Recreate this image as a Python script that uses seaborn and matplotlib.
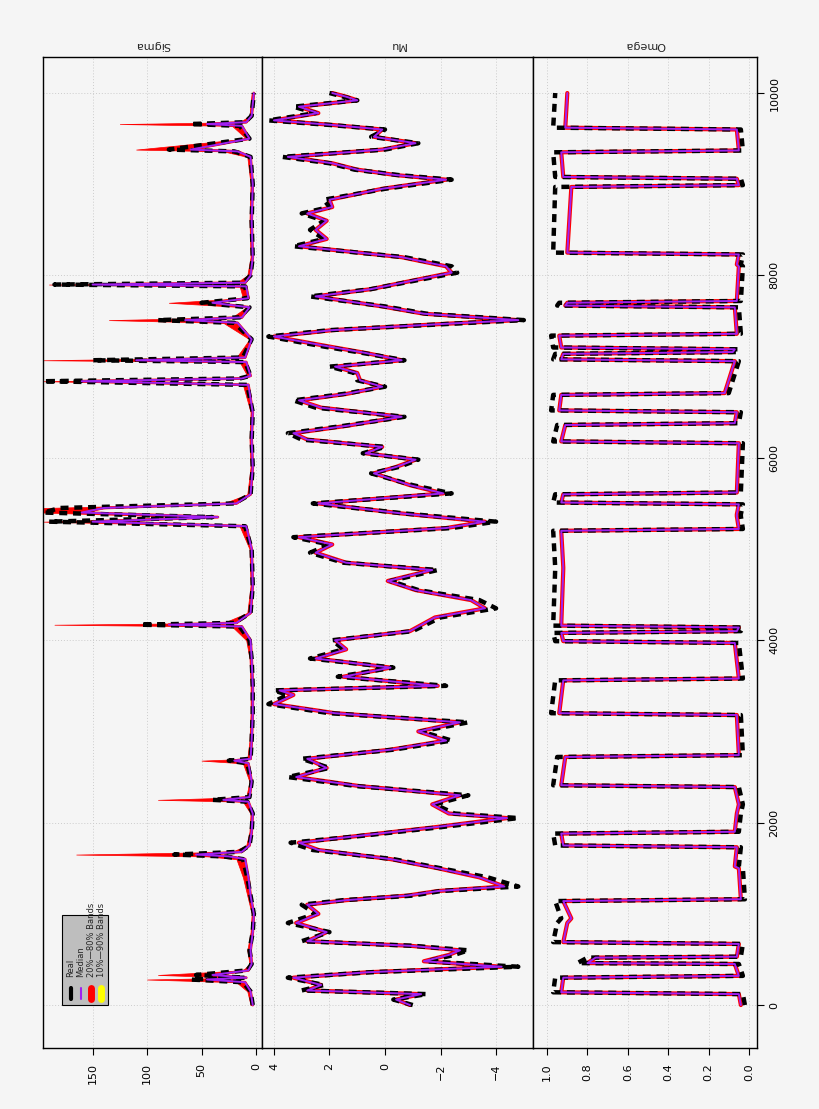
import matplotlib
matplotlib.use("Agg")
import matplotlib.pyplot as plt
import numpy as np
import pandas as pd
import seaborn as sns
from matplotlib.patches import Rectangle
from matplotlib.lines import Line2D

# ---- data (coarse) ----
sg_t = [0, 150, 250, 280, 300, 330, 380, 450, 600, 800, 1000, 1200, 1400, 1600, 1630, 1650, 1680, 1750, 1900, 2100,
        2230, 2250, 2280, 2450, 2650, 2680, 2700, 2900, 3200, 3500, 3800, 4000, 4150, 4170, 4190, 4300, 4600, 5000, 5250, 5300,
        5350, 5400, 5450, 5500, 5600, 5900, 6200, 6500, 6800, 6840, 6870, 6900, 7050, 7070, 7100, 7300, 7480, 7510, 7540, 7650,
        7700, 7750, 7880, 7900, 7920, 8000, 8200, 8600, 9000, 9300, 9360, 9380, 9500, 9640, 9660, 9680, 9750, 10000]
sg_real = [3, 5, 12, 60, 10, 55, 8, 4, 6, 3, 2, 5, 8, 12, 30, 75, 15, 6, 4, 3,
           8, 40, 6, 4, 8, 25, 5, 4, 3, 3, 4, 6, 15, 106, 20, 5, 3, 4, 10, 190,
           40, 195, 180, 20, 5, 3, 4, 3, 8, 195, 15, 5, 10, 150, 12, 4, 20, 90, 15, 6,
           50, 8, 10, 185, 12, 5, 3, 4, 3, 5, 20, 80, 6, 15, 60, 10, 4, 2]
sg_med = [3, 5, 10, 45, 9, 40, 7, 4, 5, 3, 2, 5, 7, 10, 25, 55, 13, 6, 4, 3,
          7, 30, 6, 4, 7, 20, 5, 4, 3, 3, 4, 5, 13, 80, 18, 5, 3, 4, 9, 150,
          35, 160, 140, 18, 5, 3, 4, 3, 7, 160, 13, 5, 9, 110, 10, 4, 17, 65, 13, 6,
          40, 7, 9, 150, 10, 5, 3, 4, 3, 5, 17, 60, 6, 13, 45, 9, 4, 2]
sg_hi = [5, 8, 18, 100, 15, 90, 12, 6, 8, 5, 4, 8, 12, 18, 45, 165, 22, 9, 6, 5,
         12, 90, 9, 6, 12, 50, 8, 6, 5, 5, 6, 9, 22, 185, 30, 8, 5, 6, 15, 195,
         60, 195, 195, 30, 8, 5, 6, 5, 12, 195, 22, 8, 15, 195, 18, 6, 30, 135, 22, 9,
         80, 12, 15, 190, 18, 8, 5, 6, 5, 8, 30, 110, 9, 22, 125, 15, 6, 4]

mu_t = [0, 60, 120, 160, 220, 300, 360, 420, 480, 550, 600, 650, 700, 800, 900, 1000, 1100, 1150, 1200, 1250,
        1300, 1400, 1500, 1600, 1700, 1780, 1850, 1950, 2050, 2100, 2200, 2300, 2400, 2500, 2600, 2700, 2800, 2900, 3000, 3100,
        3200, 3300, 3400, 3450, 3500, 3600, 3700, 3800, 3900, 4000, 4100, 4250, 4350, 4440, 4550, 4650, 4770, 4850, 4960, 5050,
        5130, 5230, 5300, 5390, 5500, 5610, 5700, 5830, 5900, 5980, 6050, 6120, 6200, 6270, 6350, 6450, 6550, 6630, 6700, 6780,
        6850, 6930, 7000, 7070, 7150, 7220, 7330, 7400, 7470, 7510, 7580, 7660, 7770, 7850, 7950, 8030, 8100, 8200, 8320, 8400,
        8500, 8600, 8680, 8750, 8830, 8950, 9050, 9100, 9160, 9230, 9300, 9380, 9450, 9520, 9600, 9650, 9700, 9780, 9850, 9920,
        9960, 10000]
mu_real = [-1.0, -0.3, -1.5, 3.0, 2.2, 3.5, 0.5, -4.8, -1.5, -2.5, -3.0, -1.0, 3.0, 2.0, 3.5, 2.5, 3.0, 1.5, -1.0, -2.0,
           -4.8, -3.7, -2.0, -0.3, 2.6, 3.4, 1.0, -2.0, -4.8, -2.5, -1.8, -3.0, 1.0, 3.5, 2.0, 3.0, -0.3, -2.4, -1.3, -3.0,
           2.0, 4.2, 3.5, 4.0, -2.2, 1.7, -0.3, 2.7, 1.5, 1.9, -1.0, -2.0, -4.0, -3.4, -1.2, -0.2, -1.9, 1.5, 2.7, 2.0,
           3.3, -2.4, -4.0, -0.7, 2.6, -2.4, -1.0, 0.5, -0.5, -1.2, 0.8, 0.0, 3.0, 3.5, 1.5, -0.7, 2.5, 3.3, 1.5, 0.0,
           1.0, 1.1, 2.0, -0.7, 0.8, 2.2, 4.2, 2.0, -2.4, -5.0, -1.5, 0.0, 2.7, 0.5, -1.2, -2.6, -2.4, -0.7, 3.3, 2.2,
           2.7, 2.2, 3.0, 2.0, 2.2, 0.0, -2.4, -0.5, 1.1, 2.0, 3.7, 0.0, -1.2, 0.5, 0.0, 2.0, 4.2, 2.5, 3.3, 1.0,
           1.5, 2.0]
mu_med = [-0.9, -0.4, -1.3, 2.8, 2.3, 3.3, 0.6, -4.2, -1.4, -2.3, -2.7, -0.9, 2.8, 2.1, 3.2, 2.4, 2.8, 1.4, -0.8, -1.9,
          -4.3, -3.4, -1.9, -0.2, 2.4, 3.1, 1.1, -1.8, -4.4, -2.3, -1.7, -2.7, 0.9, 3.2, 2.1, 2.8, -0.2, -2.2, -1.2, -2.7,
          1.8, 4.0, 3.3, 3.8, -1.9, 1.5, -0.2, 2.5, 1.4, 1.8, -0.9, -1.8, -3.6, -3.1, -1.1, -0.1, -1.7, 1.4, 2.5, 1.9,
          3.1, -2.2, -3.6, -0.6, 2.4, -2.1, -0.9, 0.4, -0.4, -1.1, 0.7, 0.1, 2.8, 3.3, 1.4, -0.6, 2.3, 3.1, 1.4, 0.1,
          0.9, 1.0, 1.8, -0.6, 0.7, 2.0, 4.0, 1.9, -2.2, -4.8, -1.4, 0.1, 2.5, 0.5, -1.1, -2.4, -2.2, -0.6, 3.1, 2.1,
          2.5, 2.1, 2.8, 1.9, 2.0, 0.1, -2.2, -0.4, 1.0, 1.9, 3.5, 0.1, -1.1, 0.4, 0.1, 1.9, 4.0, 2.4, 3.1, 1.0,
          1.4, 1.9]

om_t = [0, 120, 140, 300, 320, 450, 460, 520, 530, 670, 690, 900, 950, 1140, 1160, 1500, 1520, 1730, 1750, 1880,
        1900, 2100, 2200, 2390, 2410, 2720, 2740, 3180, 3200, 3560, 3580, 3970, 3990, 4080, 4100, 4140, 4160, 4780, 4800, 5200,
        5220, 5360, 5380, 5490, 5510, 5600, 5620, 6160, 6180, 6360, 6380, 6500, 6520, 6690, 6710, 7060, 7080, 7140, 7160, 7190,
        7210, 7340, 7360, 7650, 7670, 7700, 7720, 8100, 8120, 8230, 8250, 8970, 8990, 9060, 9080, 9350, 9370, 9600, 9620, 10000]
om_real = [0.02, 0.03, 0.97, 0.96, 0.03, 0.05, 0.85, 0.80, 0.04, 0.03, 0.97, 0.95, 0.93, 0.96, 0.02, 0.03, 0.05, 0.04, 0.96, 0.97,
           0.05, 0.04, 0.03, 0.05, 0.97, 0.95, 0.03, 0.04, 0.98, 0.96, 0.03, 0.05, 0.96, 0.97, 0.04, 0.03, 0.97, 0.96, 0.96, 0.97,
           0.03, 0.04, 0.04, 0.03, 0.97, 0.96, 0.04, 0.03, 0.97, 0.95, 0.05, 0.04, 0.98, 0.97, 0.10, 0.05, 0.97, 0.96, 0.06, 0.05,
           0.97, 0.98, 0.04, 0.05, 0.95, 0.94, 0.04, 0.03, 0.04, 0.03, 0.97, 0.96, 0.03, 0.04, 0.96, 0.97, 0.03, 0.04, 0.97, 0.96]
om_med = [0.04, 0.05, 0.93, 0.92, 0.05, 0.07, 0.80, 0.76, 0.06, 0.05, 0.92, 0.90, 0.88, 0.92, 0.04, 0.05, 0.07, 0.06, 0.92, 0.93,
          0.07, 0.06, 0.05, 0.07, 0.93, 0.91, 0.05, 0.06, 0.94, 0.92, 0.05, 0.07, 0.92, 0.93, 0.06, 0.05, 0.93, 0.92, 0.92, 0.93,
          0.05, 0.06, 0.06, 0.05, 0.93, 0.92, 0.06, 0.05, 0.93, 0.91, 0.07, 0.06, 0.94, 0.93, 0.12, 0.07, 0.93, 0.92, 0.08, 0.07,
          0.93, 0.94, 0.06, 0.07, 0.91, 0.90, 0.06, 0.05, 0.06, 0.05, 0.90, 0.88, 0.05, 0.06, 0.92, 0.93, 0.05, 0.06, 0.91, 0.90]

STRIPS = ["Sigma", "Mu", "Omega"]
T_LIM = (-471, 10395)
PURPLE = "#a020f0"
BG = "#f5f5f5"

sns.set_theme(style="white")
plt.rcParams["font.family"] = ["DejaVu Sans"]

fig = plt.figure(figsize=(8.2, 11.09), dpi=100, facecolor=BG)
W, H = 820, 1109
bot, top = 1 - 1048 / H, 1 - 57 / H
boxes = [(43, 262), (262, 533), (533, 757)]
axes = [fig.add_axes([l / W, bot, (r - l) / W, top - bot], facecolor=BG) for l, r in boxes]


def draw(ax, t, real, med, hi=None, red_lw=3):
    if hi is not None:
        ax.fill_betweenx(t, med, hi, color="red", lw=0.5, edgecolor="red")
    sns.lineplot(x=med, y=t, orient="y", sort=False, estimator=None, ax=ax,
                 color="red", lw=red_lw)
    sns.lineplot(x=med, y=t, orient="y", sort=False, estimator=None, ax=ax,
                 color="yellow", lw=0.5)
    sns.lineplot(x=real, y=t, orient="y", sort=False, estimator=None, ax=ax,
                 color="black", lw=3.2, linestyle=(0, (1.8, 1.3)))
    sns.lineplot(x=med, y=t, orient="y", sort=False, estimator=None, ax=ax,
                 color=PURPLE, lw=1.4)


draw(axes[0], sg_t, sg_real, sg_med, hi=sg_hi, red_lw=2)
draw(axes[1], mu_t, mu_real, mu_med)
draw(axes[2], om_t, om_real, om_med)

axes[0].set_xlim(195.5, -5.5)
axes[1].set_xlim(4.43, -5.33)
axes[2].set_xlim(1.07, -0.04)
ticks = [[0, 50, 100, 150], [-4, -2, 0, 2, 4], [0.0, 0.2, 0.4, 0.6, 0.8, 1.0]]
labels = [["0", "50", "100", "150"], ["\u22124", "\u22122", "0", "2", "4"],
          ["0.0", "0.2", "0.4", "0.6", "0.8", "1.0"]]

for i, ax in enumerate(axes):
    ax.set_ylim(*T_LIM)
    ax.set_xticks(ticks[i])
    ax.set_xticklabels(labels[i], rotation=90, fontsize=8)
    ax.tick_params(axis="x", direction="out", length=5, width=0.8, bottom=True,
                   pad=6, colors="black")
    ax.set_xlabel("")
    ax.set_ylabel("")
    ax.set_yticks([0, 2000, 4000, 6000, 8000, 10000])
    ax.grid(True, color="#cccccc", linestyle=(0, (1, 2)), lw=0.7)
    ax.set_axisbelow(True)
    for s in ax.spines.values():
        s.set_color("black")
        s.set_linewidth(1.0)
    if i < 2:
        ax.tick_params(axis="y", left=False, labelleft=False, right=False, labelright=False)
    else:
        ax.yaxis.tick_right()
        ax.tick_params(axis="y", direction="out", length=5, width=0.8, right=True,
                       labelright=True, labelsize=8, pad=4, colors="black")
        for lab in ax.get_yticklabels():
            lab.set_rotation(90)
            lab.set_va("center")
    cx = (boxes[i][0] + boxes[i][1]) / 2 / W
    fig.text(cx, 1 - 45 / H, STRIPS[i], rotation=180, ha="center", va="center", fontsize=8)

# legend box (drawn rotated like the rest of the figure)
ax = axes[0]
ax.add_patch(Rectangle((0.087, 0.043), 0.21, 0.091, transform=ax.transAxes,
                       facecolor="#bebebe", edgecolor="black", lw=0.8, zorder=5))
keys = [("Real", "black", 3), ("Median", PURPLE, 1.5), ("20%\u201480% Bands", "red", 5),
        ("10%\u201490% Bands", "yellow", 5)]
for j, (txt, col, lw) in enumerate(keys):
    xf = 0.128 + j * 0.046
    ax.add_line(Line2D([xf, xf], [0.049, 0.061], transform=ax.transAxes, color=col,
                       lw=lw, solid_capstyle="round", zorder=6))
    ax.text(xf, 0.072, txt, transform=ax.transAxes, rotation=90, ha="center",
            va="bottom", fontsize=6, zorder=6)

fig.savefig("out.png", dpi=100, facecolor=BG)
